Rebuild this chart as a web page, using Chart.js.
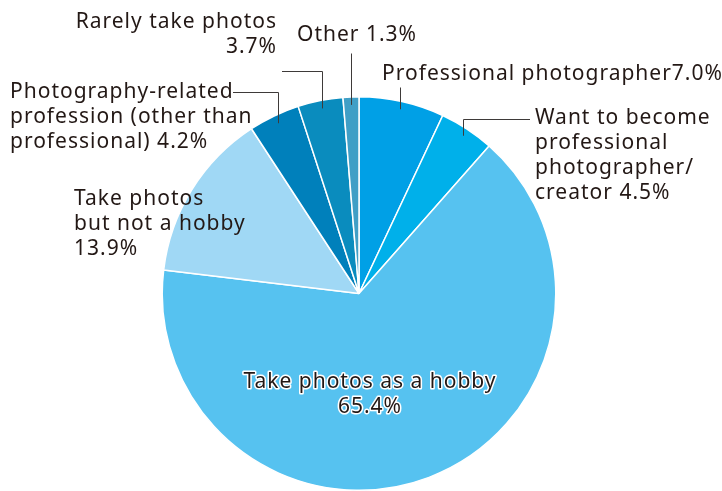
<!DOCTYPE html>
<html>
<head>
<meta charset="utf-8">
<script src="https://cdn.jsdelivr.net/npm/chart.js@4/dist/chart.umd.min.js"></script>
<style>
  html, body { margin: 0; padding: 0; background: #ffffff; }
  #wrap { width: 722px; height: 491px; position: relative; }
</style>
</head>
<body>
<div id="wrap"><canvas id="pieChart"></canvas></div>
<script>
// data, clockwise from 12 o'clock
var categories = [
  "Professional photographer",
  "Want to become professional photographer/ creator",
  "Take photos as a hobby",
  "Take photos but not a hobby",
  "Photography-related profession (other than professional)",
  "Rarely take photos",
  "Other"
];
var shares = [7.0, 4.5, 65.4, 13.9, 4.2, 3.7, 1.3];
var sliceColors = ["#00a0e6", "#00b0ea", "#56c2f0", "#a0d8f5", "#0080bb", "#0a8cbe", "#409fc6"];

// text lines of each label (the value is appended to the last line)
var labelLines = [
  ["Professional photographer"],
  ["Want to become", "professional", "photographer/", "creator "],
  ["Take photos as a hobby", ""],
  ["Take photos", "but not a hobby", ""],
  ["Photography-related", "profession (other than", "professional) "],
  ["Rarely take photos", ""],
  ["Other "]
];

// label placement: x, first baseline, alignment, leader elbow
var labelLayout = [
  { x: 382, y: 80, align: "left", elbowY: 87, endX: null },
  { x: 535, y: 124, align: "left", elbowY: 119, endX: 530 },
  { x: 370, y: 388, align: "center", halo: true },
  { x: 74, y: 205, align: "left" },
  { x: 10, y: 98, align: "left", elbowY: 92, endX: 233 },
  { x: 277, y: 28, align: "right", elbowY: 71, endX: 282 },
  { x: 297, y: 41, align: "left", elbowY: 53, endX: null }
];

var textColor = "#231815";
var lineColor = "#3e3a39";
var fontSize = 21;
var lineGap = 25;

const labelPlugin = {
  id: "pieLabels",
  afterDatasetsDraw(chart) {
    const ctx = chart.ctx;
    const arcs = chart.getDatasetMeta(0).data;
    ctx.save();
    // leader lines
    ctx.strokeStyle = lineColor;
    ctx.lineWidth = 1;
    for (let i = 0; i < arcs.length; i++) {
      const lay = labelLayout[i];
      if (lay.elbowY === undefined) continue;
      const a = arcs[i];
      const mid = (a.startAngle + a.endAngle) / 2;
      const r = a.outerRadius - 8;
      const px = Math.round(a.x + r * Math.cos(mid)) + 0.5;
      const py = a.y + r * Math.sin(mid);
      ctx.beginPath();
      ctx.moveTo(px, py);
      ctx.lineTo(px, lay.elbowY + 0.5);
      if (lay.endX !== null) ctx.lineTo(lay.endX, lay.elbowY + 0.5);
      ctx.stroke();
    }
    // label text
    ctx.font = fontSize + 'px "Noto Sans", sans-serif';
    ctx.letterSpacing = "1px";
    ctx.textBaseline = "alphabetic";
    for (let i = 0; i < arcs.length; i++) {
      const lay = labelLayout[i];
      const lines = labelLines[i].slice();
      lines[lines.length - 1] += shares[i].toFixed(1) + "%";
      ctx.textAlign = lay.align;
      for (let j = 0; j < lines.length; j++) {
        const y = lay.y + j * lineGap;
        if (lay.halo) {
          ctx.strokeStyle = "#ffffff";
          ctx.lineWidth = 3;
          ctx.lineJoin = "round";
          ctx.strokeText(lines[j], lay.x, y);
        }
        ctx.fillStyle = textColor;
        ctx.fillText(lines[j], lay.x, y);
      }
    }
    ctx.restore();
  }
};

const pieChart = new Chart(
  document.getElementById("pieChart"),
  {
    type: "pie",
    data: {
      labels: categories,
      datasets: [
        {
          data: shares,
          backgroundColor: sliceColors,
          borderColor: "#ffffff",
          borderWidth: 1.5,
          hoverOffset: 0,
        }
      ],
    },
    options: {
      responsive: true,
      maintainAspectRatio: false,
      animation: false,
      events: [],
      layout: {
        padding: { top: 96, bottom: 0, left: 0, right: 4 },
      },
      plugins: {
        legend: { display: false },
        tooltip: { enabled: false },
      },
    },
    plugins: [labelPlugin],
  }
);
</script>
</body>
</html>
